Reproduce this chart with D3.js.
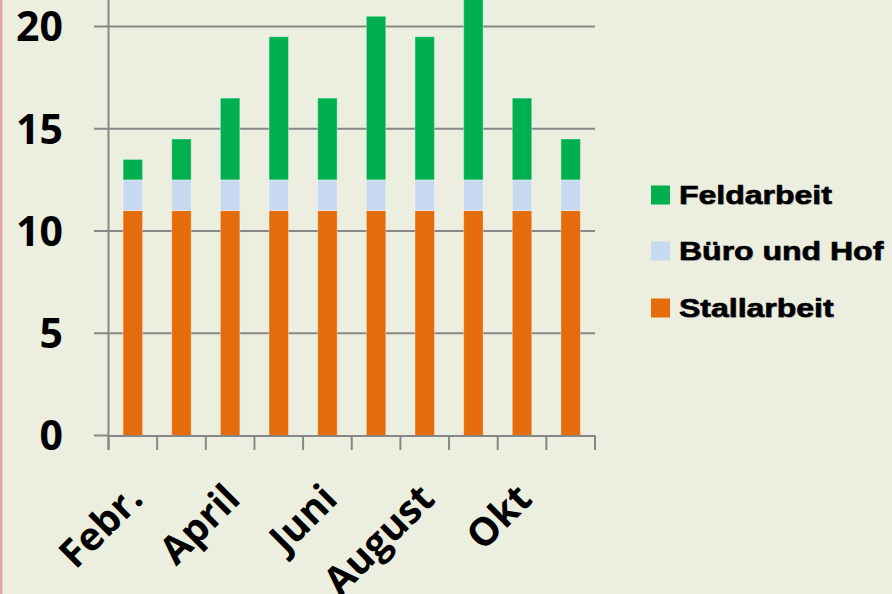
<!DOCTYPE html>
<html>
<head>
<meta charset="utf-8">
<script src="https://cdnjs.cloudflare.com/ajax/libs/d3/7.8.5/d3.min.js"></script>
<style>
    body { margin: 0; background: #ECEFDF; }
    svg { display: block; }
</style>
</head>
<body>
<svg id="chart_svg"></svg>
<script>
var months = ["Febr.", "März", "April", "Mai", "Juni", "Juli", "August", "Sept.", "Okt", "Nov."];
var stallarbeit = [11, 11, 11, 11, 11, 11, 11, 11, 11, 11];
var bueroUndHof = [1.5, 1.5, 1.5, 1.5, 1.5, 1.5, 1.5, 1.5, 1.5, 1.5];
var feldarbeit = [1, 2, 4, 7, 4, 8, 7, 9.5, 4, 2];
var seriesNames = ["Stallarbeit", "Büro und Hof", "Feldarbeit"];
var seriesColors = ["#E46C0A", "#C6D9F1", "#00B050"];
var yTicks = [0, 5, 10, 15, 20];
var shownLabels = ["Febr.", "April", "Juni", "August", "Okt"];

var width = 892, height = 594;

var svg = d3.select("#chart_svg")
    .attr("width", width)
    .attr("height", height);

svg.append("rect")
    .attr("width", width)
    .attr("height", height)
    .attr("fill", "#ECEFDF");

// pink border at the left
svg.append("rect")
    .attr("x", 0)
    .attr("y", 0)
    .attr("width", 2.5)
    .attr("height", height)
    .attr("fill", "#E3A3A3");

var table = months.map(function (m, i) {
    return {month: m, "Stallarbeit": stallarbeit[i], "Büro und Hof": bueroUndHof[i], "Feldarbeit": feldarbeit[i]};
});
var stacked = d3.stack().keys(seriesNames)(table);

var x = d3.scaleBand()
    .domain(months)
    .range([108.5, 595])
    .paddingInner(0.6)
    .paddingOuter(0.3);

var xTick = d3.scaleBand()
    .domain(months)
    .range([108.5, 595]);

var y = d3.scaleLinear()
    .domain([0, 20])
    .range([435.5, 26.5]);

// gridlines
svg.append("g")
    .selectAll("line")
    .data(yTicks.filter(function (d) { return d > 0; }))
    .enter().append("line")
    .attr("x1", 94)
    .attr("x2", 595)
    .attr("y1", function (d) { return y(d); })
    .attr("y2", function (d) { return y(d); })
    .attr("stroke", "#878787")
    .attr("stroke-width", 2);

// bars
svg.append("g")
    .selectAll("g")
    .data(stacked)
    .enter().append("g")
    .attr("fill", function (d, i) { return seriesColors[i]; })
    .selectAll("rect")
    .data(function (d) { return d; })
    .enter().append("rect")
    .attr("x", function (d) { return x(d.data.month); })
    .attr("width", x.bandwidth())
    .attr("y", function (d) { return y(d[1]); })
    .attr("height", function (d) { return y(d[0]) - y(d[1]); })
    .attr("stroke", "rgba(255,255,255,0.35)")
    .attr("stroke-width", 1);

// y axis
svg.append("line")
    .attr("x1", 108.5).attr("x2", 108.5)
    .attr("y1", 0).attr("y2", 450)
    .attr("stroke", "#878787")
    .attr("stroke-width", 2);

svg.append("line")
    .attr("x1", 94).attr("x2", 108.5)
    .attr("y1", y(0)).attr("y2", y(0))
    .attr("stroke", "#878787")
    .attr("stroke-width", 2);

// x axis
var xAxis = d3.axisBottom(xTick)
    .tickValues([])
    .tickSizeOuter(0);

svg.append("g")
    .attr("class", "x axis")
    .attr("transform", "translate(0," + y(0) + ")")
    .call(xAxis)
    .call(function (g) {
        g.select(".domain").attr("stroke", "#878787").attr("stroke-width", 2);
    });

svg.append("g")
    .selectAll("line")
    .data(months.concat(["end"]))
    .enter().append("line")
    .attr("x1", function (d, i) { return 108.5 + i * xTick.step(); })
    .attr("x2", function (d, i) { return 108.5 + i * xTick.step(); })
    .attr("y1", y(0))
    .attr("y2", 450)
    .attr("stroke", "#878787")
    .attr("stroke-width", 2);

// y tick labels
svg.append("g")
    .selectAll("text")
    .data(yTicks)
    .enter().append("text")
    .attr("x", 63)
    .attr("y", function (d) { return y(d); })
    .attr("dy", "0.36em")
    .style("text-anchor", "end")
    .style("font-family", "'Open Sans', sans-serif")
    .style("font-weight", "bold")
    .style("font-size", "41px")
    .text(function (d) { return d; });

// x labels (every other month)
svg.append("g")
    .selectAll("text")
    .data(shownLabels)
    .enter().append("text")
    .attr("transform", function (d) {
        var cx = x(d) + x.bandwidth() / 2;
        return "translate(" + (cx + 12) + ",501) rotate(-45)";
    })
    .style("text-anchor", "end")
    .style("font-family", "'Open Sans', sans-serif")
    .style("font-weight", "bold")
    .style("font-size", "39px")
    .text(function (d) { return d; });

// legend
var legendItems = ["Feldarbeit", "Büro und Hof", "Stallarbeit"];
var legendColors = ["#00B050", "#C6D9F1", "#E46C0A"];
var legendY = [195, 251, 308];

var legend = svg.append("g")
    .selectAll("g")
    .data(legendItems)
    .enter().append("g")
    .attr("transform", function (d, i) { return "translate(651," + legendY[i] + ")"; });

legend.append("rect")
    .attr("x", 0)
    .attr("y", -9.5)
    .attr("width", 19)
    .attr("height", 19)
    .attr("fill", function (d, i) { return legendColors[i]; });

// soft shadow under the legend text
legend.append("text")
    .attr("transform", "translate(29,1) scale(1.28,1)")
    .attr("dy", "0.36em")
    .style("font-family", "'Liberation Sans', Arial, sans-serif")
    .style("font-weight", "bold")
    .style("font-size", "25px")
    .style("fill", "#9a9a9a")
    .style("opacity", 0.6)
    .text(function (d) { return d; });

legend.append("text")
    .attr("transform", "translate(28,0) scale(1.28,1)")
    .attr("dy", "0.36em")
    .style("font-family", "'Liberation Sans', Arial, sans-serif")
    .style("font-weight", "bold")
    .style("font-size", "25px")
    .style("fill", "#000")
    .style("stroke", "#000")
    .style("stroke-width", 0.6)
    .text(function (d) { return d; });
</script>
</body>
</html>
